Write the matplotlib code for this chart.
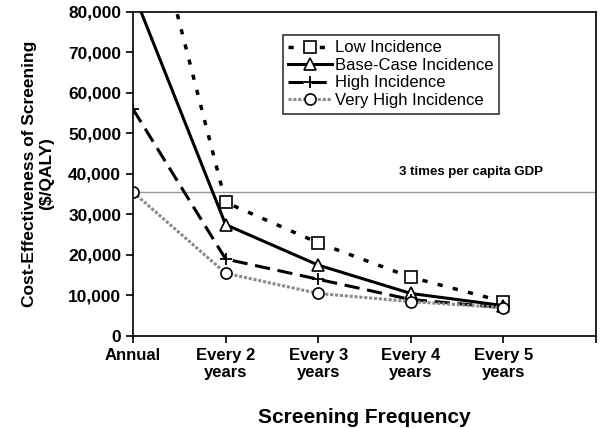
import matplotlib
matplotlib.use('Agg')
from matplotlib import pyplot as plt

plt.rcParams['font.family'] = ['Liberation Sans', 'DejaVu Sans']

freq = ['Annual', 'Every 2\nyears', 'Every 3\nyears', 'Every 4\nyears', 'Every 5\nyears']
low = [122000, 33000, 23000, 14500, 8500]
base = [85000, 27500, 17500, 10500, 7500]
high = [56000, 19000, 14000, 9000, 7000]
very_high = [35500, 15500, 10500, 8500, 7000]
gdp_threshold = 35500

fig = plt.figure(figsize=(6.02, 4.28), dpi=100)
ax = fig.add_axes([0.221, 0.215, 0.769, 0.757])

x = list(range(len(freq)))
mk = dict(markersize=8, markerfacecolor='white', markeredgecolor='black', markeredgewidth=1.2)

ax.axhline(gdp_threshold, color='#999999', lw=1)
ax.plot(x, low, color='black', lw=2.5, ls=(0, (1.5, 3)), marker='s', label='Low Incidence', **mk)
ax.plot(x, base, color='black', lw=2.2, ls='-', marker='^', label='Base-Case Incidence', **mk)
ax.plot(x, high, color='black', lw=2.2, ls=(0, (5, 2.5)), marker='+', markersize=9,
        markeredgewidth=1.3, label='High Incidence')
ax.plot(x, very_high, color='#8a8a8a', lw=2.2, ls=(0, (1, 0.6)), marker='o', label='Very High Incidence', **mk)

ax.text(3.65, gdp_threshold + 5000, '3 times per capita GDP', ha='center', va='center',
        fontsize=9.5, fontweight='bold')

ax.set_xlim(0, 5)
ax.set_ylim(0, 80000)
ax.set_xticks(range(6))
ax.set_xticklabels(freq + [''], fontsize=12, fontweight='bold')
ax.set_yticks(range(0, 80001, 10000))
ax.set_yticklabels([f'{v:,}' for v in range(0, 80001, 10000)], fontsize=12.5, fontweight='bold')
ax.tick_params(direction='out', length=5, width=1.2)
for s in ax.spines.values():
    s.set_linewidth(1.2)

ax.set_xlabel('Screening Frequency', fontsize=15, fontweight='bold', labelpad=20)
ax.set_ylabel('Cost-Effectiveness of Screening\n($/QALY)', fontsize=12.5, fontweight='bold', labelpad=10)

leg = ax.legend(loc='upper left', bbox_to_anchor=(0.323, 0.93), fontsize=12, frameon=True,
                fancybox=False, edgecolor='black', handlelength=2.6, borderpad=0.35,
                labelspacing=0.15, handletextpad=0.2, borderaxespad=0)
leg.get_frame().set_linewidth(1.2)

fig.savefig('out.png', dpi=100)
